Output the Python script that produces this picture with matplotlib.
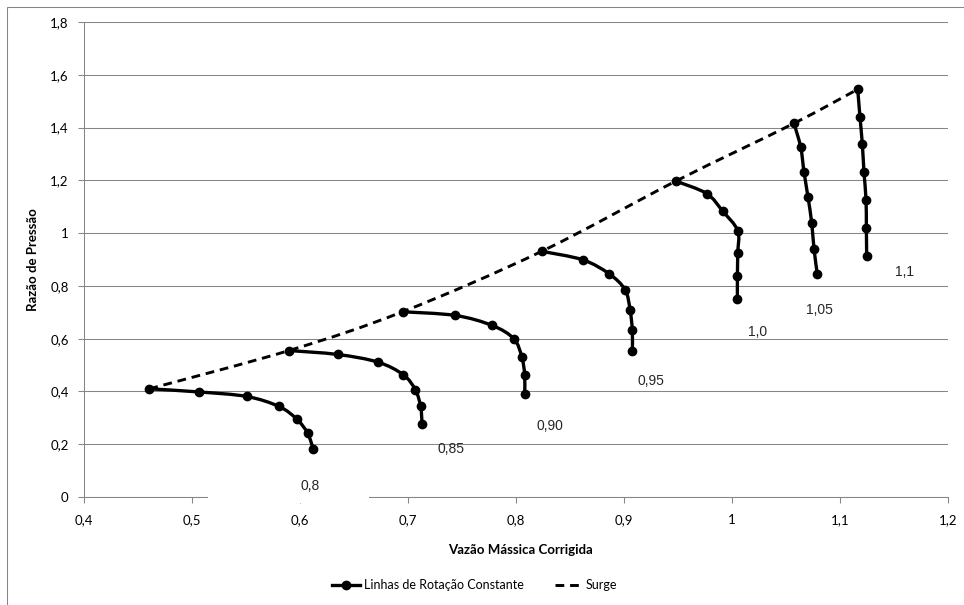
import numpy as np
import matplotlib.pyplot as plt
from matplotlib.path import Path
from matplotlib.patches import PathPatch, Rectangle
from matplotlib.lines import Line2D

# linhas de rotacao constante (vazao corrigida x razao de pressao)
rotacoes = ['0,8', '0,85', '0,90', '0,95', '1,0', '1,05', '1,1']

vazao_080 = [0.4605, 0.5068, 0.5506, 0.5806, 0.5970, 0.6070, 0.6123]
razao_080 = [0.410, 0.398, 0.381, 0.343, 0.295, 0.242, 0.181]

vazao_085 = [0.5898, 0.6352, 0.6722, 0.6957, 0.7068, 0.7117, 0.7130]
razao_085 = [0.555, 0.540, 0.511, 0.463, 0.406, 0.343, 0.278]

vazao_090 = [0.6950, 0.7438, 0.7780, 0.7979, 0.8053, 0.8080, 0.8080]
razao_090 = [0.702, 0.688, 0.650, 0.600, 0.532, 0.464, 0.391]

vazao_095 = [0.8238, 0.8617, 0.8861, 0.9009, 0.9056, 0.9077, 0.9077]
razao_095 = [0.931, 0.899, 0.846, 0.786, 0.710, 0.631, 0.553]

vazao_100 = [0.9480, 0.9765, 0.9914, 1.0053, 1.0053, 1.0050, 1.0050]
razao_100 = [1.197, 1.150, 1.083, 1.009, 0.923, 0.836, 0.750]

vazao_105 = [1.0574, 1.0636, 1.0667, 1.0704, 1.0738, 1.0759, 1.0790]
razao_105 = [1.416, 1.326, 1.231, 1.136, 1.039, 0.941, 0.844]

vazao_110 = [1.1164, 1.1185, 1.1207, 1.1222, 1.1241, 1.1244, 1.1247]
razao_110 = [1.545, 1.440, 1.336, 1.231, 1.127, 1.021, 0.915]

vazoes = [vazao_080, vazao_085, vazao_090, vazao_095, vazao_100, vazao_105, vazao_110]
razoes = [razao_080, razao_085, razao_090, razao_095, razao_100, razao_105, razao_110]

# linha de surge passa pelo primeiro ponto de cada rotacao
surge_x = [v[0] for v in vazoes]
surge_y = [r[0] for r in razoes]

x_ticks = [0.4, 0.5, 0.6, 0.7, 0.8, 0.9, 1.0, 1.1, 1.2]
x_rotulos = ['0,4', '0,5', '0,6', '0,7', '0,8', '0,9', '1', '1,1', '1,2']
y_ticks = [0, 0.2, 0.4, 0.6, 0.8, 1.0, 1.2, 1.4, 1.6, 1.8]
y_rotulos = ['0', '0,2', '0,4', '0,6', '0,8', '1', '1,2', '1,4', '1,6', '1,8']

# onde ficam os rotulos de cada linha (coordenadas do grafico)
rotulos_pos = [(0.6093, 0.042), (0.7395, 0.182), (0.8315, 0.269), (0.925, 0.440),
               (1.0234, 0.624), (1.081, 0.710), (1.1593, 0.854)]

cinza = '#868686'
plt.rcParams['font.family'] = ['Lato', 'DejaVu Sans']


def caminho_suave(x, y):
    # curva suavizada tipo Excel (Catmull-Rom em Bezier)
    p = np.column_stack([x, y])
    n = len(p)
    verts = [p[0]]
    codes = [Path.MOVETO]
    for i in range(n - 1):
        p0 = p[max(i - 1, 0)]
        p3 = p[min(i + 2, n - 1)]
        c1 = p[i] + (p[i + 1] - p0) / 6
        c2 = p[i + 1] - (p3 - p[i]) / 6
        verts += [c1, c2, p[i + 1]]
        codes += [Path.CURVE4] * 3
    return Path(verts, codes)


fig = plt.figure(figsize=(9.64, 6.05), dpi=100)
ax = fig.add_axes([84 / 964, 1 - 497 / 605, 864 / 964, 475 / 605])

ax.set_xlim(0.4, 1.2)
ax.set_ylim(0, 1.8)

# surge tracejado
ax.add_patch(PathPatch(caminho_suave(surge_x, surge_y), fill=False, ec='black',
                       lw=2.1, linestyle=(0, (3, 2)), zorder=3))

for vx, ry in zip(vazoes, razoes):
    ax.add_patch(PathPatch(caminho_suave(vx, ry), fill=False, ec='black', lw=2.4,
                           zorder=4, capstyle='round', joinstyle='round'))
    ax.plot(vx, ry, 'o', color='black', ms=6, linestyle='none', zorder=5)

# caixa branca do rotulo 0,8 que cobre o eixo
ax.add_patch(Rectangle((0.5148, -0.024), 0.1491, 0.118, fc='white', ec='none',
                       clip_on=False, zorder=6))

for txt, (px, py) in zip(rotacoes, rotulos_pos):
    ax.text(px, py, txt, ha='center', va='center', fontsize=10,
            fontfamily='Liberation Sans', color='#262626', zorder=7)

ax.set_xticks(x_ticks)
ax.set_xticklabels(x_rotulos)
ax.set_yticks(y_ticks)
ax.set_yticklabels(y_rotulos)
ax.tick_params(axis='both', length=4, width=0.75, color=cinza, labelsize=9.5,
               labelcolor='black')
ax.tick_params(axis='x', pad=8)
ax.tick_params(axis='y', pad=7)

ax.grid(axis='y', color=cinza, lw=0.75)
ax.set_axisbelow(True)
for lado in ['top', 'right']:
    ax.spines[lado].set_visible(False)
for lado in ['left', 'bottom']:
    ax.spines[lado].set_color(cinza)
    ax.spines[lado].set_linewidth(0.75)

fig.text(520 / 964, 1 - 550 / 605, 'Vazão Mássica Corrigida', ha='center', va='center',
         fontsize=9.5, fontweight='bold')
fig.text(33 / 964, 1 - 259.5 / 605, 'Razão de Pressão', ha='center', va='center',
         rotation=90, fontsize=9.5, fontweight='bold')

handles = [Line2D([], [], color='black', lw=2.4, marker='o', ms=6),
           Line2D([], [], color='black', lw=2.1, linestyle=(0, (3, 2)))]
fig.legend(handles, ['Linhas de Rotação Constante', 'Surge'], loc='center',
           bbox_to_anchor=(475 / 964, 1 - 585 / 605), ncol=2, frameon=False,
           fontsize=9, handlelength=2.2, columnspacing=2.5, handletextpad=0.3)

# borda da area do grafico
fig.patches.append(Rectangle((7 / 964, -0.1), 1.2, 1.1 - 7 / 605, fill=False,
                             ec=cinza, lw=0.75, transform=fig.transFigure, figure=fig))

plt.savefig('out.png', dpi=100)
plt.close()
